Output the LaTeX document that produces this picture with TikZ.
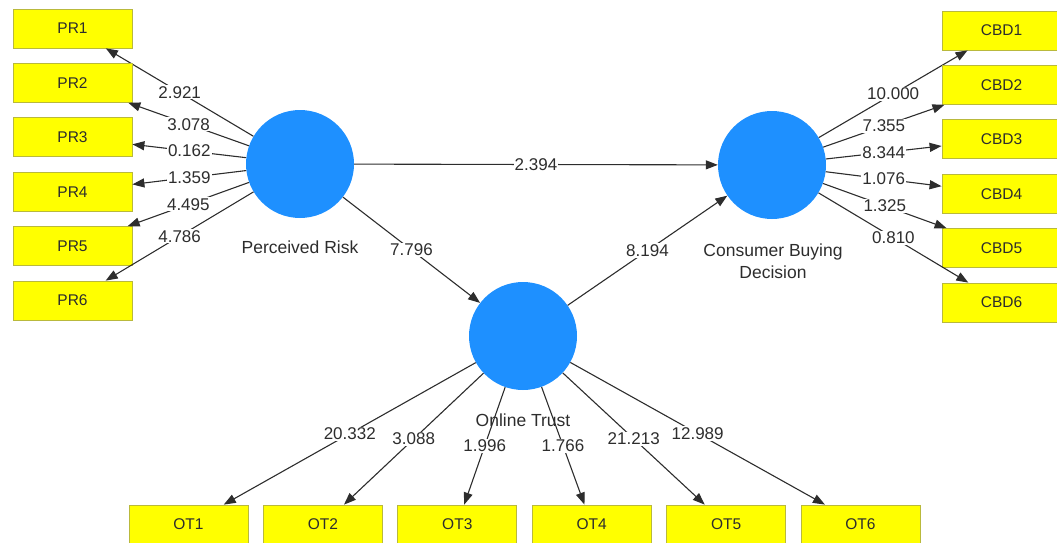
\documentclass[tikz,border=0pt]{standalone}
\usepackage{fontspec}
\setmainfont{Liberation Sans}
\usetikzlibrary{arrows.meta}
\definecolor{lvblue}{RGB}{30,144,255}
\definecolor{mvyellow}{RGB}{255,255,0}
\definecolor{mvborder}{RGB}{185,185,60}
\definecolor{txt}{RGB}{45,45,45}
\begin{document}
\begin{tikzpicture}[x=1pt,y=-1pt,
  lv/.style={circle, fill=lvblue, minimum size=108pt, inner sep=0pt},
  mv/.style={rectangle, fill=mvyellow, draw=mvborder, line width=0.8pt, minimum width=119pt, minimum height=39pt, inner sep=0pt, text=txt, font=\fontsize{15.5}{18}\selectfont},
  conn/.style={draw=txt, line width=1.1pt, -{Triangle[length=12pt,width=9pt]}},
  val/.style={fill=white, inner sep=1pt, text=txt, font=\fontsize{17}{20}\selectfont, midway},
  lvlabel/.style={text=txt, font=\fontsize{17.5}{22}\selectfont, align=center}]
\useasboundingbox (0,0) rectangle (1057,543);

\node[lv] (PR) at (300,164) {};
\node[lv] (CBD) at (772,165) {};
\node[lv] (OT) at (523,336) {};

\foreach \i/\v in {1/2.921,2/3.078,3/0.162,4/1.359,5/4.495,6/4.786}{
  \node[mv] (PR\i) at (72.5,{28.5+54.4*(\i-1)}) {PR\i};
  \draw[conn] (PR) -- node[val]{\v} (PR\i);
}
\foreach \i/\v in {1/10.000,2/7.355,3/8.344,4/1.076,5/1.325,6/0.810}{
  \node[mv] (CBD\i) at (1001.5,{30.5+54.4*(\i-1)}) {CBD\i};
  \draw[conn] (CBD) -- node[val]{\v} (CBD\i);
}
\foreach \i/\v in {1/20.332,2/3.088,3/1.996,4/1.766,5/21.213,6/12.989}{
  \node[mv] (OT\i) at ({188.5+134.4*(\i-1)},524.5) {OT\i};
  \draw[conn] (OT) -- node[val]{\v} (OT\i);
}

\draw[conn] (PR) -- node[val]{2.394} (CBD);
\draw[conn] (PR) -- node[val]{7.796} (OT);
\draw[conn] (OT) -- node[val]{8.194} (CBD);

\node[lvlabel] (PRl) at (300,247) {Perceived Risk};
\node[lvlabel] (CBDl) at (773,261) {Consumer Buying\\Decision};
\node[lvlabel] (OTl) at (523,420) {Online Trust};
\end{tikzpicture}
\end{document}
